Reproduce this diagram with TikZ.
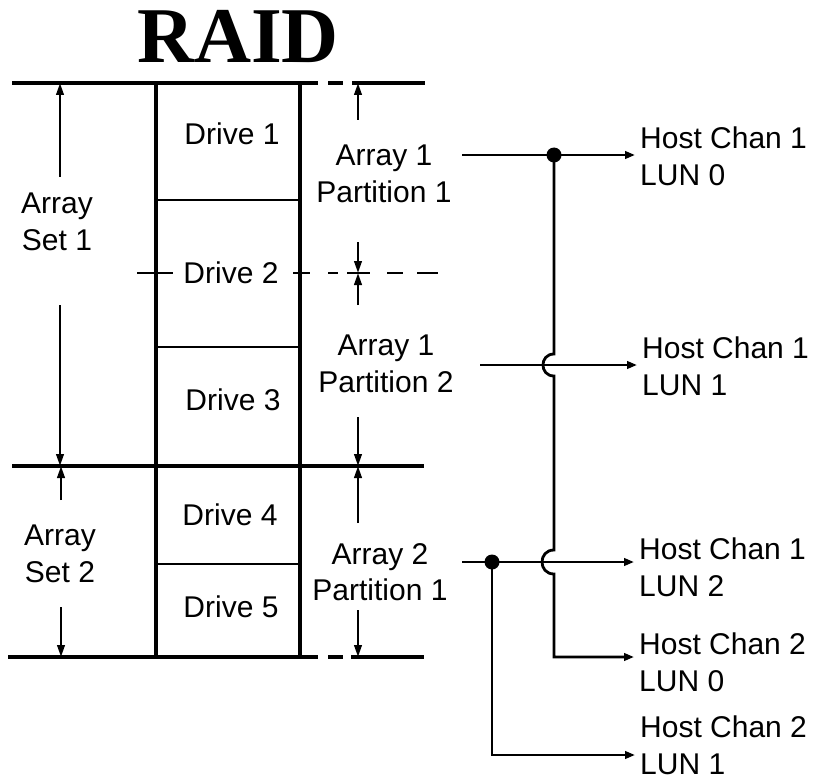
\documentclass[tikz,border=0pt]{standalone}
\usepackage{fontspec}
\setmainfont{Liberation Sans}
\newfontfamily\titlefont{Liberation Serif}
\usetikzlibrary{arrows.meta}
\begin{document}
\begin{tikzpicture}[x=1pt,y=-1pt,
  lbl/.style={font=\fontsize{30}{36.5}\selectfont, inner sep=0pt},
  heavy/.style={line width=4.3pt},
  colline/.style={line width=3.3pt},
  divline/.style={line width=2.8pt},
  dimarrow/.style={line width=2.4pt, -{Triangle[length=12pt,width=7.5pt]}},
  connarrow/.style={line width=2.8pt, -{Triangle[length=10pt,width=7.5pt]}, shorten >=5pt},
  marktick/.style={line width=1.8pt},
  dotmark/.style={circle, fill=black, inner sep=0pt, minimum size=15pt}]
\useasboundingbox (0,0) rectangle (817,781);
\fill[white] (0,0) rectangle (817,781);

% title
\node[font=\titlefont\bfseries\fontsize{79}{79}\selectfont, inner sep=0pt, anchor=base] (title) at (238,63) {RAID};

% horizontal boundaries
\draw[heavy] (12,83) -- (318,83) (328,83) -- (343,83) (352,83) -- (425,83);
\draw[heavy] (12,466) -- (424,466);
\draw[heavy] (8,657) -- (318,657) (328,657) -- (343,657) (351,657) -- (424,657);

% drive column
\draw[colline] (156,83) -- (156,657) (300,83) -- (300,657);
\draw[divline] (156,200) -- (300,200) (156,347) -- (300,347) (156,564) -- (300,564);

% drive labels
\node[lbl, anchor=base] (d1) at (232,145) {Drive 1};
\node[lbl, anchor=base] (d2) at (231,283) {Drive 2};
\node[lbl, anchor=base] (d3) at (233,410) {Drive 3};
\node[lbl, anchor=base] (d4) at (230,525) {Drive 4};
\node[lbl, anchor=base] (d5) at (231,617) {Drive 5};

% drive 2 centre mark
\draw[marktick] (137,273) -- (173,273);
\draw[marktick] (293,273) -- (310,273) (328,273) -- (338,273) (347,273) -- (370,273)
  (387,273) -- (403,273) (417,273) -- (438,273);

% array set labels
\node[lbl, align=center, anchor=north] (set1) at (57,193) {Array\\Set 1};
\node[lbl, align=center, anchor=north] (set2) at (60,525) {Array\\Set 2};

% partition labels
\node[lbl, align=center, anchor=north] (p1) at (384,145) {Array 1\\Partition 1};
\node[lbl, align=center, anchor=north] (p2) at (386,335) {Array 1\\Partition 2};
\node[lbl, align=center, anchor=north] (p3) at (380,543) {Array 2\\Partition 1};

% dimension arrows (left)
\coordinate (s1a) at (60,177); \coordinate (s1at) at (60,83);
\coordinate (s1b) at (60,305); \coordinate (s1bt) at (60,466);
\coordinate (s2a) at (61,500); \coordinate (s2at) at (61,466);
\coordinate (s2b) at (61,607); \coordinate (s2bt) at (61,657);
\draw[dimarrow] (s1a) -- (s1at);
\draw[dimarrow] (s1b) -- (s1bt);
\draw[dimarrow] (s2a) -- (s2at);
\draw[dimarrow] (s2b) -- (s2bt);

% dimension arrows (right)
\coordinate (r1) at (358,120); \coordinate (r1t) at (358,83);
\coordinate (r2) at (358,242); \coordinate (r2t) at (358,273);
\coordinate (r3) at (358,305); \coordinate (r3t) at (358,273);
\coordinate (r4) at (358,417); \coordinate (r4t) at (358,466);
\coordinate (r5) at (358,523); \coordinate (r5t) at (358,466);
\coordinate (r6) at (358,610); \coordinate (r6t) at (358,657);
\foreach \a/\b in {r1/r1t,r2/r2t,r3/r3t,r4/r4t,r5/r5t,r6/r6t}
  \draw[dimarrow] (\a) -- (\b);

% host labels
\node[lbl, align=left, anchor=north west] (h1) at (640,127) {Host Chan 1\\LUN 0};
\node[lbl, align=left, anchor=north west] (h2) at (642,337) {Host Chan 1\\LUN 1};
\node[lbl, align=left, anchor=north west] (h3) at (639,538) {Host Chan 1\\LUN 2};
\node[lbl, align=left, anchor=north west] (h4) at (639,633) {Host Chan 2\\LUN 0};
\node[lbl, align=left, anchor=north west] (h5) at (640,716) {Host Chan 2\\LUN 1};

% connector start points, bends and junctions
\coordinate (c1) at (462,155);
\coordinate (c2) at (480,365);
\coordinate (c3) at (462,562);
\coordinate (b4) at (554,657);
\coordinate (b5) at (492,755);
\node[dotmark] (j1) at (554,155) {};
\node[dotmark] (j2) at (492,562) {};

\draw[connarrow] (c1) -- (h1.west |- c1);
\draw[connarrow] (c2) -- (h2.west |- c2);
\draw[connarrow] (c3) -- (h3.west |- c3);

% bus from j1 down with two hops, to Host Chan 2 LUN 0
\draw[connarrow] (j1.center) -- (554,354)
  .. controls (539.3,354) and (539.3,376) .. (554,376)
  -- (554,550)
  .. controls (538,550) and (538,574) .. (554,574)
  -- (b4) -- (h4.west |- b4);

% from j2 down to Host Chan 2 LUN 1
\draw[connarrow] (j2.center) -- (b5) -- (h5.west |- b5);
\end{tikzpicture}
\end{document}
